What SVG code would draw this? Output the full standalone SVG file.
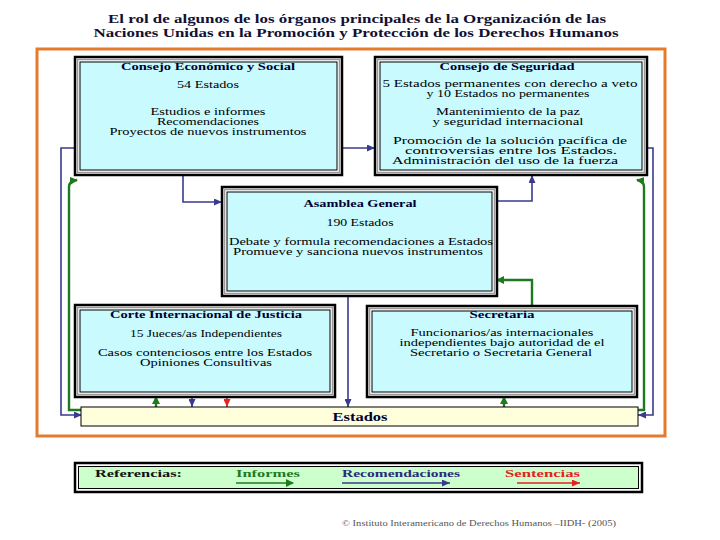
<svg xmlns="http://www.w3.org/2000/svg" width="720" height="540" viewBox="0 0 720 540">
<style>
  text { font-family: "Liberation Serif", "Times New Roman", serif; text-anchor: middle; }
  .ttl { font-size: 12px; font-weight: bold; fill: #111133; }
  .hd { font-size: 10px; font-weight: bold; fill: #000033; }
  .tx { font-size: 10px; fill: #000; }
  .o { fill: none; stroke: #000; stroke-width: 2.5; }
  .g { fill: none; stroke: #9a9a9a; stroke-width: 1.5; }
  .i { fill: #C8FAFE; stroke: #000; stroke-width: 1; }
  .bl { fill: none; stroke: #3A3A8E; stroke-width: 1.6; }
  .gr { fill: none; stroke: #1F7A1F; stroke-width: 2.4; }
  .rd { fill: none; stroke: #E52222; stroke-width: 1.6; }
  .lg { font-size: 11px; font-weight: bold; text-anchor: start; }
</style>
<defs>
  <marker id="ab" markerUnits="userSpaceOnUse" markerWidth="8" markerHeight="7" refX="8" refY="3.5" orient="auto"><path d="M0,0 L8,3.5 L0,7 z" fill="#3A3A8E"/></marker>
  <marker id="ag" markerUnits="userSpaceOnUse" markerWidth="8" markerHeight="8" refX="7" refY="4" orient="auto"><path d="M0,0 L8,4 L0,8 z" fill="#1F7A1F"/></marker>
  <marker id="ar" markerUnits="userSpaceOnUse" markerWidth="8" markerHeight="7" refX="8" refY="3.5" orient="auto"><path d="M0,0 L8,3.5 L0,7 z" fill="#E52222"/></marker>
</defs>
<rect width="720" height="540" fill="#fff"/>

<g id="title">
  <text class="ttl" x="357" y="23" textLength="498" lengthAdjust="spacingAndGlyphs">El rol de algunos de los órganos principales de la Organización de las</text>
  <text class="ttl" x="356" y="37" textLength="525" lengthAdjust="spacingAndGlyphs">Naciones Unidas en la Promoción y Protección de los Derechos Humanos</text>
</g>

<rect id="frame" x="37" y="49" width="628" height="387" fill="none" stroke="#E57B2C" stroke-width="3"/>

<g id="connectors">
  <path class="bl" d="M342,148 H375" marker-end="url(#ab)"/>
  <path class="bl" d="M75,148 H61 V415 H82" marker-end="url(#ab)"/>
  <path class="bl" d="M647,148 H653 V415 H638" marker-end="url(#ab)"/>
  <path class="bl" d="M183,175 V202 H222" marker-end="url(#ab)"/>
  <path class="bl" d="M497,201 H532 V175" marker-end="url(#ab)"/>
  <path class="bl" d="M348,296 V407" marker-end="url(#ab)"/>
  <path class="gr" d="M82,410 H69 V187 Q69,181 77,180" marker-end="url(#ag)"/>
  <path class="gr" d="M638,410 H644 V187 Q644,181 637,180" marker-end="url(#ag)"/>
  <path class="gr" d="M532,306 V280 H497" marker-end="url(#ag)"/>
  <path class="gr" d="M156,407 V397" marker-end="url(#ag)"/>
  <path class="gr" d="M504,407 V397" marker-end="url(#ag)"/>
  <path class="bl" d="M192,397 V407" marker-end="url(#ab)"/>
  <path class="rd" d="M227,397 V407" marker-end="url(#ar)"/>
</g>

<g id="ecosoc">
  <rect class="o" x="75" y="57" width="267" height="118"/>
  <rect class="g" x="77.5" y="59.5" width="262" height="113"/>
  <rect class="i" x="80" y="62" width="257" height="108"/>
  <text class="hd" x="208" y="70" textLength="174" lengthAdjust="spacingAndGlyphs">Consejo Económico y Social</text>
  <text class="tx" x="208" y="88" textLength="62" lengthAdjust="spacingAndGlyphs">54 Estados</text>
  <text class="tx" x="208" y="115" textLength="115" lengthAdjust="spacingAndGlyphs">Estudios e informes</text>
  <text class="tx" x="208" y="125" textLength="102" lengthAdjust="spacingAndGlyphs">Recomendaciones</text>
  <text class="tx" x="208" y="135" textLength="197" lengthAdjust="spacingAndGlyphs">Proyectos de nuevos instrumentos</text>
</g>

<g id="seguridad">
  <rect class="o" x="375" y="57" width="272" height="118"/>
  <rect class="g" x="377.5" y="59.5" width="267" height="113"/>
  <rect class="i" x="380" y="62" width="262" height="108"/>
  <text class="hd" x="507" y="70" textLength="135" lengthAdjust="spacingAndGlyphs">Consejo de Seguridad</text>
  <text class="tx" x="510" y="87" textLength="255" lengthAdjust="spacingAndGlyphs">5 Estados permanentes con derecho a veto</text>
  <text class="tx" x="508" y="97" textLength="163" lengthAdjust="spacingAndGlyphs">y 10 Estados no permanentes</text>
  <text class="tx" x="508" y="115" textLength="144" lengthAdjust="spacingAndGlyphs">Mantenimiento de la paz</text>
  <text class="tx" x="508" y="125" textLength="151" lengthAdjust="spacingAndGlyphs">y seguridad internacional</text>
  <text class="tx" x="510" y="144" textLength="234" lengthAdjust="spacingAndGlyphs">Promoción de la solución pacífica de</text>
  <text class="tx" x="511" y="154" textLength="212" lengthAdjust="spacingAndGlyphs">controversias entre los Estados.</text>
  <text class="tx" x="505" y="164" textLength="226" lengthAdjust="spacingAndGlyphs">Administración del uso de la fuerza</text>
</g>

<g id="asamblea">
  <rect class="o" x="222" y="187" width="275" height="109"/>
  <rect class="g" x="224.5" y="189.5" width="270" height="104"/>
  <rect class="i" x="227" y="192" width="265" height="99"/>
  <text class="hd" x="360" y="207" textLength="113" lengthAdjust="spacingAndGlyphs">Asamblea General</text>
  <text class="tx" x="360" y="226" textLength="67" lengthAdjust="spacingAndGlyphs">190 Estados</text>
  <text class="tx" x="361" y="245" textLength="264" lengthAdjust="spacingAndGlyphs">Debate y formula recomendaciones a Estados</text>
  <text class="tx" x="358" y="255" textLength="250" lengthAdjust="spacingAndGlyphs">Promueve y sanciona nuevos instrumentos</text>
</g>

<g id="corte">
  <rect class="o" x="75" y="305" width="260" height="92"/>
  <rect class="g" x="77.5" y="307.5" width="255" height="87"/>
  <rect class="i" x="80" y="310" width="250" height="82"/>
  <text class="hd" x="206" y="318" textLength="192" lengthAdjust="spacingAndGlyphs">Corte Internacional de Justicia</text>
  <text class="tx" x="206" y="337" textLength="152" lengthAdjust="spacingAndGlyphs">15 Jueces/as Independientes</text>
  <text class="tx" x="205" y="356" textLength="214" lengthAdjust="spacingAndGlyphs">Casos contenciosos entre los Estados</text>
  <text class="tx" x="206" y="366" textLength="132" lengthAdjust="spacingAndGlyphs">Opiniones Consultivas</text>
</g>

<g id="secretaria">
  <rect class="o" x="367" y="306" width="270" height="91"/>
  <rect class="g" x="369.5" y="308.5" width="265" height="86"/>
  <rect class="i" x="372" y="311" width="260" height="81"/>
  <text class="hd" x="502" y="318" textLength="65" lengthAdjust="spacingAndGlyphs">Secretaria</text>
  <text class="tx" x="502" y="336" textLength="183" lengthAdjust="spacingAndGlyphs">Funcionarios/as internacionales</text>
  <text class="tx" x="502" y="346" textLength="205" lengthAdjust="spacingAndGlyphs">independientes bajo autoridad de el</text>
  <text class="tx" x="501" y="356" textLength="182" lengthAdjust="spacingAndGlyphs">Secretario o Secretaria General</text>
</g>

<g id="estados">
  <rect x="81" y="407" width="557" height="19" fill="#FFFFDC" stroke="#000" stroke-width="1"/>
  <text class="hd" x="360" y="421" style="font-size:12px" textLength="55" lengthAdjust="spacingAndGlyphs">Estados</text>
</g>

<g id="legend">
  <rect class="o" x="75" y="463" width="567" height="29" fill="#CCFFCC"/>
  <rect x="78.5" y="466.5" width="560" height="22" fill="#CCFFCC" stroke="#000" stroke-width="1"/>
  <text class="lg" x="95" y="477" fill="#111" textLength="87" lengthAdjust="spacingAndGlyphs">Referencias:</text>
  <text class="lg" x="236" y="477" fill="#1F7A1F" textLength="64" lengthAdjust="spacingAndGlyphs">Informes</text>
  <text class="lg" x="342" y="477" fill="#2A2A80" textLength="118" lengthAdjust="spacingAndGlyphs">Recomendaciones</text>
  <text class="lg" x="505" y="477" fill="#E52222" textLength="75" lengthAdjust="spacingAndGlyphs">Sentencias</text>
  <path d="M236,483 H293" fill="none" stroke="#1F7A1F" stroke-width="1.5" marker-end="url(#ag)"/>
  <path d="M342,483 H450" fill="none" stroke="#3A3A8E" stroke-width="1.3" marker-end="url(#ab)"/>
  <path d="M517,483 H580" fill="none" stroke="#E52222" stroke-width="1.5" marker-end="url(#ar)"/>
</g>

<text x="479" y="526" style="font-size:9px; fill:#555" textLength="274" lengthAdjust="spacingAndGlyphs">© Instituto Interamericano de Derechos Humanos –IIDH- (2005)</text>
</svg>
